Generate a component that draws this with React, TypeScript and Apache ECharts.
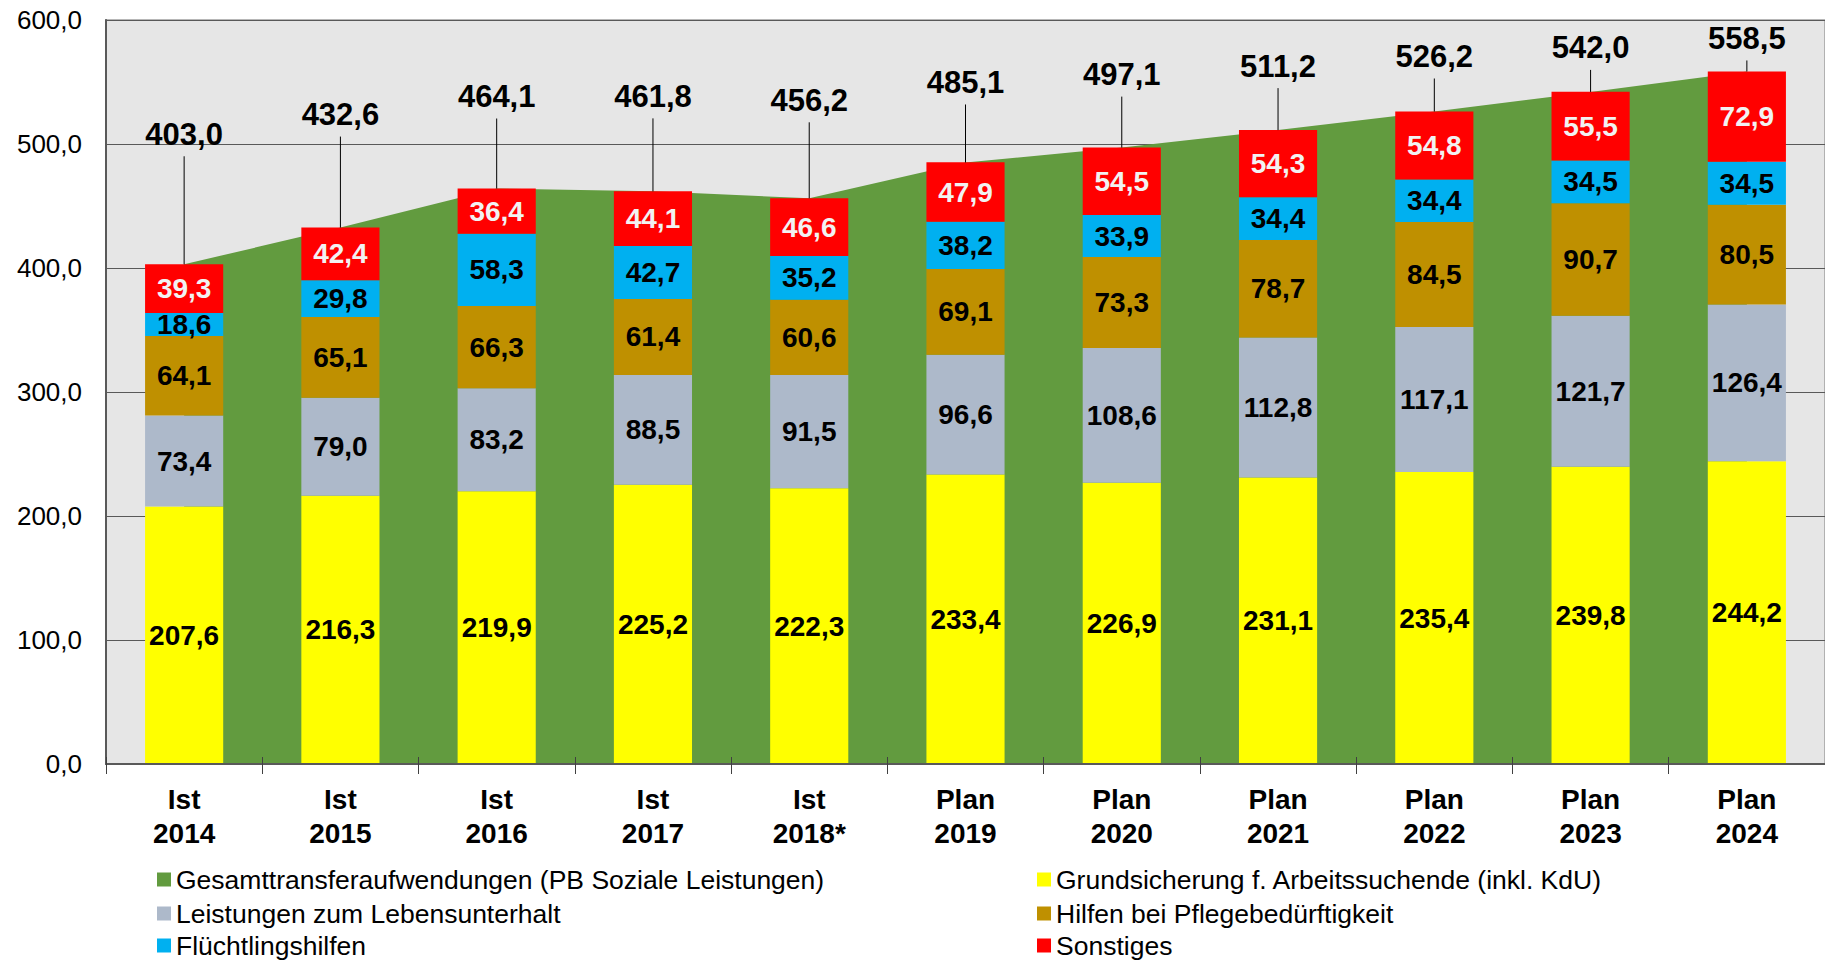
import React, { useEffect, useRef } from "react";
import * as echarts from "echarts";

const categories = [
  "Ist\n2014", "Ist\n2015", "Ist\n2016", "Ist\n2017", "Ist\n2018*",
  "Plan\n2019", "Plan\n2020", "Plan\n2021", "Plan\n2022", "Plan\n2023", "Plan\n2024",
];
const totals = [403.0, 432.6, 464.1, 461.8, 456.2, 485.1, 497.1, 511.2, 526.2, 542.0, 558.5];
const grundsicherung = [207.6, 216.3, 219.9, 225.2, 222.3, 233.4, 226.9, 231.1, 235.4, 239.8, 244.2];
const lebensunterhalt = [73.4, 79.0, 83.2, 88.5, 91.5, 96.6, 108.6, 112.8, 117.1, 121.7, 126.4];
const pflege = [64.1, 65.1, 66.3, 61.4, 60.6, 69.1, 73.3, 78.7, 84.5, 90.7, 80.5];
const fluechtlinge = [18.6, 29.8, 58.3, 42.7, 35.2, 38.2, 33.9, 34.4, 34.4, 34.5, 34.5];
const sonstiges = [39.3, 42.4, 36.4, 44.1, 46.6, 47.9, 54.5, 54.3, 54.8, 55.5, 72.9];
const yTicks = { min: 0, max: 600, interval: 100 };

// layout: pixel lift of each total label above its bar (leader line length)
const totalLabelLift = [130, 113, 92, 95, 98, 80, 73, 64, 55, 44, 33];

const NAMES = {
  total: "Gesamttransferaufwendungen (PB Soziale Leistungen)",
  gs: "Grundsicherung f. Arbeitssuchende (inkl. KdU)",
  lu: "Leistungen zum Lebensunterhalt",
  pf: "Hilfen bei Pflegebedürftigkeit",
  fl: "Flüchtlingshilfen",
  so: "Sonstiges",
};
const COLORS = {
  total: "#629B3F",
  gs: "#FFFF00",
  lu: "#ADB9CA",
  pf: "#BF9000",
  fl: "#00B0F0",
  so: "#FF0000",
};

const FONT = "'Liberation Sans', Arial, Helvetica, sans-serif";
const fmt = (v: number) => Number(v).toFixed(1).replace(".", ",");

function barSeries(name: string, data: number[], color: string, labelColor: string) {
  return {
    name,
    type: "bar",
    stack: "s",
    data,
    barWidth: "50%",
    z: 3,
    itemStyle: { color },
    label: {
      show: true,
      position: "inside",
      formatter: (p: any) => fmt(p.value),
      fontSize: 28,
      fontWeight: "bold",
      fontFamily: FONT,
      color: labelColor,
    },
  };
}

export default function App() {
  const ref = useRef<HTMLDivElement>(null);
  useEffect(() => {
    if (!ref.current) return;
    const chart = echarts.init(ref.current, undefined, { renderer: "svg" });
    const legendItem = (name: string, left: number, top: number) => ({
      orient: "horizontal",
      icon: "rect",
      itemWidth: 14,
      itemHeight: 14,
      padding: 0,
      left,
      top,
      selectedMode: false,
      data: [name],
      textStyle: { fontSize: 26.5, fontFamily: FONT, color: "#000", lineHeight: 24 },
    });
    chart.setOption({
      animation: false,
      textStyle: { fontFamily: FONT },
      grid: {
        left: 106,
        right: 0,
        top: 20,
        bottom: 200,
        show: true,
        backgroundColor: "#E6E6E6",
        borderColor: "#A0A0A0",
        borderWidth: 1.5,
      },
      legend: [
        legendItem(NAMES.total, 157, 866),
        legendItem(NAMES.lu, 157, 900),
        legendItem(NAMES.fl, 157, 932),
        legendItem(NAMES.gs, 1037, 866),
        legendItem(NAMES.pf, 1037, 900),
        legendItem(NAMES.so, 1037, 932),
      ],
      xAxis: [
        {
          type: "category",
          data: categories,
          boundaryGap: true,
          axisLine: { show: true, lineStyle: { color: "#595959", width: 2 } },
          axisTick: { show: true, length: 10, lineStyle: { color: "#404040", width: 1 } },
          axisLabel: {
            fontSize: 28,
            fontWeight: "bold",
            fontFamily: FONT,
            color: "#000",
            lineHeight: 34,
            margin: 18,
            interval: 0,
          },
          splitLine: { show: false },
          z: 10,
        },
        {
          type: "category",
          data: categories,
          position: "bottom",
          boundaryGap: true,
          axisLine: { show: false },
          axisTick: { show: true, inside: true, length: 7, lineStyle: { color: "#404040", width: 1 } },
          axisLabel: { show: false },
          splitLine: { show: false },
          z: 10,
        },
      ],
      yAxis: {
        type: "value",
        min: yTicks.min,
        max: yTicks.max,
        interval: yTicks.interval,
        axisLine: { show: true, lineStyle: { color: "#595959", width: 2 } },
        axisTick: { show: false },
        axisLabel: {
          fontSize: 26,
          fontFamily: FONT,
          color: "#000",
          margin: 24,
          formatter: (v: number) => fmt(v),
        },
        splitLine: { show: true, lineStyle: { color: "#595959", width: 1 } },
      },
      series: [
        {
          name: NAMES.total,
          type: "line",
          data: totals,
          symbol: "none",
          z: 1,
          itemStyle: { color: COLORS.total },
          lineStyle: { width: 0, color: COLORS.total },
          areaStyle: { color: COLORS.total, opacity: 1 },
        },
        barSeries(NAMES.gs, grundsicherung, COLORS.gs, "#000"),
        barSeries(NAMES.lu, lebensunterhalt, COLORS.lu, "#000"),
        barSeries(NAMES.pf, pflege, COLORS.pf, "#000"),
        barSeries(NAMES.fl, fluechtlinge, COLORS.fl, "#000"),
        barSeries(NAMES.so, sonstiges, COLORS.so, "#F2F2F2"),
        {
          name: "Summe",
          type: "custom",
          z: 6,
          data: totals.map((t, i) => [i, t]),
          encode: { x: 0, y: 1 },
          renderItem: (params: any, api: any) => {
            const i = params.dataIndex;
            const v = api.value(1);
            const p = api.coord([api.value(0), v]);
            const ly = p[1] - totalLabelLift[i];
            return {
              type: "group",
              children: [
                {
                  type: "line",
                  shape: { x1: p[0], y1: ly + 22, x2: p[0], y2: p[1] },
                  style: { stroke: "#000", lineWidth: 1 },
                },
                {
                  type: "text",
                  x: p[0],
                  y: ly,
                  style: {
                    text: fmt(v),
                    fontSize: 31,
                    fontWeight: "bold",
                    fontFamily: FONT,
                    fill: "#000",
                    align: "center",
                    verticalAlign: "middle",
                  },
                },
              ],
            };
          },
        },
      ],
    });
    return () => chart.dispose();
  }, []);
  return (
    <div
      ref={ref}
      style={{ position: "fixed", left: 0, top: 0, width: 1825, height: 964, background: "#fff" }}
    />
  );
}
